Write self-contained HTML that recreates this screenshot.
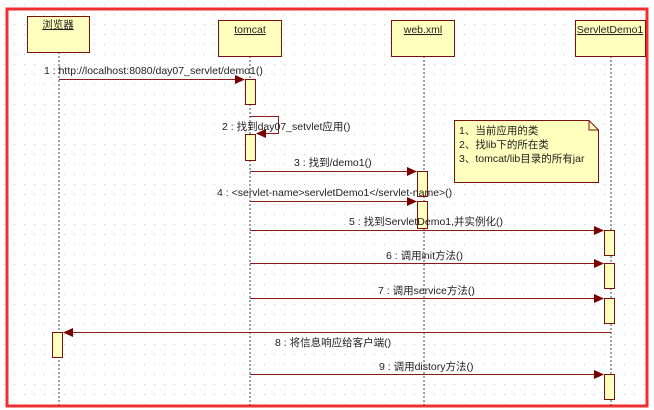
<!DOCTYPE html>
<html><head><meta charset="utf-8"><style>
html,body{margin:0;padding:0;background:#fff;}
svg{display:block;}
text{font-family:"Liberation Sans","Noto Sans CJK SC",sans-serif;font-size:10.5px;fill:#222;}
</style></head><body>
<svg width="654" height="410" viewBox="0 0 654 410" xmlns="http://www.w3.org/2000/svg">
<defs>
<pattern id="g" width="10" height="10" patternUnits="userSpaceOnUse"><rect x="4" y="4" width="1" height="1" fill="#c8c8c8"/></pattern>
<marker id="a" markerWidth="10" markerHeight="9" refX="9" refY="4.5" orient="auto" markerUnits="userSpaceOnUse"><path d="M0,0 L10,4.5 L0,9 z" fill="#7a0000"/></marker>
</defs>
<rect width="654" height="410" fill="url(#g)"/>
<rect x="7" y="9" width="640" height="397" fill="none" stroke="#f03030" stroke-width="3"/>
<g stroke="#444" stroke-dasharray="2,2" stroke-width="1">
<line x1="59" y1="52" x2="59" y2="406"/>
<line x1="250" y1="56" x2="250" y2="406"/>
<line x1="424" y1="56" x2="424" y2="406"/>
<line x1="611" y1="56" x2="611" y2="406"/>
</g>
<g fill="#ffffbe" stroke="#7a1010" stroke-width="1">
<rect x="27.5" y="16.5" width="62" height="36"/>
<rect x="218.5" y="20.5" width="63" height="36"/>
<rect x="391.5" y="20.5" width="63" height="36"/>
<rect x="575.5" y="20.5" width="70" height="36"/>
<rect x="245.5" y="79.5" width="10" height="25"/>
<rect x="245.5" y="134.5" width="10" height="26"/>
<rect x="417.5" y="171.5" width="10" height="25"/>
<rect x="417.5" y="201.5" width="10" height="27"/>
<rect x="604.5" y="230.5" width="10" height="25"/>
<rect x="604.5" y="263.5" width="10" height="25"/>
<rect x="604.5" y="298.5" width="10" height="25"/>
<rect x="52.5" y="332.5" width="10" height="25"/>
<rect x="604.5" y="374.5" width="10" height="25"/>
<path d="M454.5,120.5 H589 L598.5,130 V182.5 H454.5 Z"/>
<path d="M589,120.5 V130 H598.5" fill="none"/>
</g>
<g stroke="#8b1a1a" stroke-width="1" fill="none">
<line x1="59" y1="79.5" x2="244" y2="79.5" marker-end="url(#a)"/>
<path d="M250,116.5 H278.5 V133.5 H257" marker-end="url(#a)"/>
<line x1="250" y1="171.5" x2="416" y2="171.5" marker-end="url(#a)"/>
<line x1="250" y1="201.5" x2="416" y2="201.5" marker-end="url(#a)"/>
<line x1="250" y1="230.5" x2="603" y2="230.5" marker-end="url(#a)"/>
<line x1="250" y1="263.5" x2="603" y2="263.5" marker-end="url(#a)"/>
<line x1="250" y1="298.5" x2="603" y2="298.5" marker-end="url(#a)"/>
<line x1="611" y1="332.5" x2="64" y2="332.5" marker-end="url(#a)"/>
<line x1="250" y1="374.5" x2="603" y2="374.5" marker-end="url(#a)"/>
</g>
<g text-anchor="middle">
<text x="58" y="28" text-decoration="underline">浏览器</text>
<text x="250" y="33" text-decoration="underline">tomcat</text>
<text x="423" y="33" text-decoration="underline">web.xml</text>
<text x="610" y="33" text-decoration="underline">ServletDemo1</text>
</g>
<text x="44" y="74">1 : http://localhost:8080/day07_servlet/demo1()</text>
<text x="222" y="130">2 : 找到day07_setvlet应用()</text>
<text x="294" y="166">3 : 找到/demo1()</text>
<text x="217" y="196">4 : &lt;servlet-name&gt;servletDemo1&lt;/servlet-name&gt;()</text>
<text x="349" y="225">5 : 找到ServletDemo1,并实例化()</text>
<text x="386" y="259">6 : 调用init方法()</text>
<text x="378" y="294">7 : 调用service方法()</text>
<text x="275" y="346">8 : 将信息响应给客户端()</text>
<text x="379" y="370">9 : 调用distory方法()</text>
<text x="459" y="134">1、当前应用的类</text>
<text x="459" y="148">2、找lib下的所在类</text>
<text x="459" y="162">3、tomcat/lib目录的所有jar</text>
</svg>
</body></html>
